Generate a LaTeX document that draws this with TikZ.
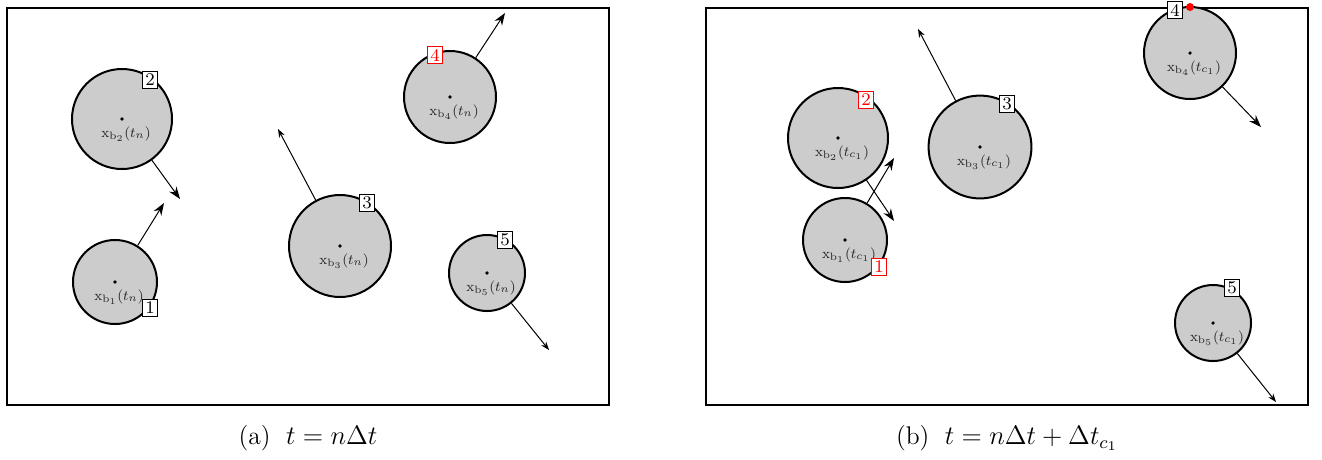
\documentclass[tikz,border=0pt]{standalone}
\usetikzlibrary{arrows.meta}
\newcommand{\lbl}[2]{\scalebox{0.8}{\footnotesize$\mathrm{x}_{\mathrm{b}_{#1}}(#2)$}}
\begin{document}
\begin{tikzpicture}[x=0.45pt,y=-0.45pt,
  ball/.style={circle,draw,line width=0.9pt,fill=gray!40,inner sep=0pt},
  lab/.style={inner sep=0pt,text=black!85},
  num/.style={draw,line width=0.6pt,fill=white,font=\footnotesize,inner sep=0.8pt,minimum width=7pt,minimum height=7.4pt},
  rnum/.style={num,draw=red,text=red},
  frame/.style={line width=0.7pt},
  big/.style={line width=0.45pt,-{Stealth[length=5.5pt,width=4pt]}},
  small/.style={line width=0.45pt,-{Stealth[length=3.8pt,width=2.8pt]}},
  captext/.style={inner sep=0pt,font=\fontsize{11.5}{14}\selectfont},
  cdot/.style={circle,fill,inner sep=0pt,minimum size=1.6pt}]
\useasboundingbox (0,0) rectangle (1322,459);
% ---------- panel (a)
\draw[frame] (7,8) rectangle (609,405);
\node[ball,minimum size=45pt] (a2) at (122,119) {};
\node[ball,minimum size=37.8pt] (a1) at (115,282) {};
\node[ball,minimum size=45.9pt] (a3) at (340,246) {};
\node[ball,minimum size=41.4pt] (a4) at (450,97) {};
\node[ball,minimum size=34.2pt] (a5) at (487,273) {};
\foreach \b in {1,...,5}{\node[cdot] (a\b d) at (a\b.center) {};}
\node[lab] (a2l) at (126,134) {\lbl{2}{t_n}};
\node[lab] (a1l) at (119,297) {\lbl{1}{t_n}};
\node[lab] (a3l) at (344,261) {\lbl{3}{t_n}};
\node[lab] (a4l) at (454,112) {\lbl{4}{t_n}};
\node[lab] (a5l) at (491,288) {\lbl{5}{t_n}};
\coordinate (a2t) at (180,199);
\coordinate (a1t) at (164,203);
\coordinate (a3t) at (278,129);
\coordinate (a4t) at (505,13);
\coordinate (a5t) at (549,350);
\draw[big] (a2) -- (a2t);
\draw[big] (a1) -- (a1t);
\draw[small] (a3) -- (a3t);
\draw[big] (a4) -- (a4t);
\draw[small] (a5) -- (a5t);
\node[num] (a2n) at (150,80) {2};
\node[num] (a1n) at (150,308) {1};
\node[num] (a3n) at (367,203) {3};
\node[rnum] (a4n) at (435,55) {4};
\node[num] (a5n) at (505,240) {5};
\node[captext] (capa) at (308,438) {(a)\hspace{0.6em}$t=n\Delta t$};
% ---------- panel (b)
\draw[frame] (706,8) rectangle (1308,405);
\node[ball,minimum size=45pt] (b2) at (838,138) {};
\node[ball,minimum size=37.8pt] (b1) at (845,240) {};
\node[ball,minimum size=46.3pt] (b3) at (980,147) {};
\node[ball,minimum size=41.4pt] (b4) at (1190,53) {};
\node[ball,minimum size=34.2pt] (b5) at (1213,323) {};
\foreach \b in {1,...,5}{\node[cdot] (b\b d) at (b\b.center) {};}
\node[lab] (b2l) at (842,153) {\lbl{2}{t_{c_1}}};
\node[lab] (b1l) at (849,255) {\lbl{1}{t_{c_1}}};
\node[lab] (b3l) at (984,162) {\lbl{3}{t_{c_1}}};
\node[lab] (b4l) at (1194,68) {\lbl{4}{t_{c_1}}};
\node[lab] (b5l) at (1217,338) {\lbl{5}{t_{c_1}}};
\coordinate (b2t) at (894,221);
\coordinate (b1t) at (894,158);
\coordinate (b3t) at (918,29);
\coordinate (b4t) at (1261,127);
\coordinate (b5t) at (1276,402);
\draw[big] (b2) -- (b2t);
\draw[big] (b1) -- (b1t);
\draw[small] (b3) -- (b3t);
\draw[big] (b4) -- (b4t);
\draw[small] (b5) -- (b5t);
\node[rnum] (b2n) at (866,100) {2};
\node[rnum] (b1n) at (879,267) {1};
\node[num] (b3n) at (1007,104) {3};
\node[num] (b4n) at (1175,10) {4};
\node[num] (b5n) at (1232,288) {5};
\node[circle,fill=red,inner sep=0pt,minimum size=3.6pt] (b4c) at (1190,7) {};
\node[captext] (capb) at (1007,438) {(b)\hspace{0.6em}$t=n\Delta t+\Delta t_{c_1}$};
\end{tikzpicture}
\end{document}
